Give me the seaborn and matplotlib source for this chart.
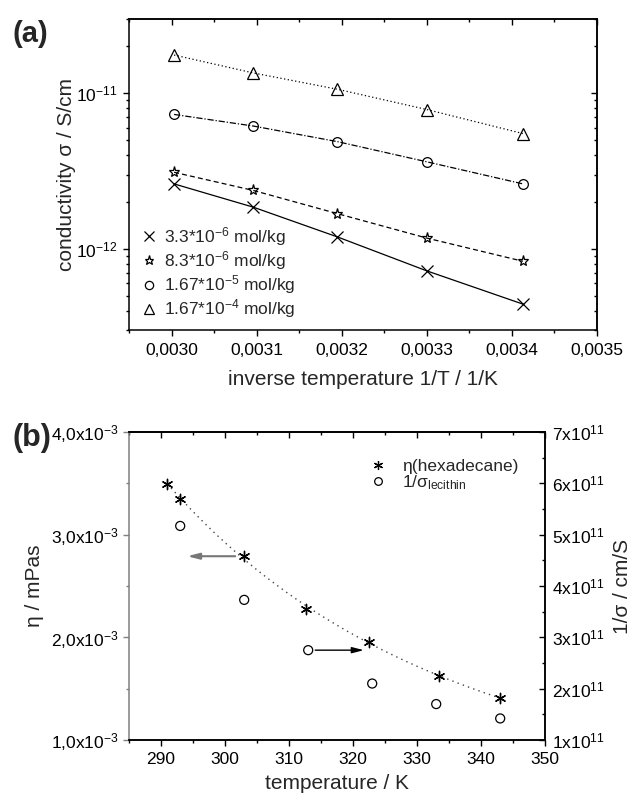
import numpy as np
import matplotlib
matplotlib.use('Agg')
import matplotlib.pyplot as plt
import seaborn as sns
from matplotlib.lines import Line2D
from matplotlib.ticker import FuncFormatter, MultipleLocator, LogLocator, NullFormatter

# ---------------- data: panel (a) ----------------
inv_T = [0.003003, 0.003096, 0.003195, 0.003300, 0.003413]
sigma_33e6 = [2.61e-12, 1.85e-12, 1.19e-12, 7.2e-13, 4.4e-13]
sigma_83e6 = [3.10e-12, 2.37e-12, 1.68e-12, 1.17e-12, 8.3e-13]
sigma_167e5 = [7.3e-12, 6.15e-12, 4.88e-12, 3.62e-12, 2.61e-12]
sigma_167e4 = [1.76e-11, 1.35e-11, 1.06e-11, 7.85e-12, 5.5e-12]
conc_labels = [r'3.3*10$^{-6}$ mol/kg', r'8.3*10$^{-6}$ mol/kg',
               r'1.67*10$^{-5}$ mol/kg', r'1.67*10$^{-4}$ mol/kg']

# ---------------- data: panel (b) ----------------
T_eta = [291, 293, 303, 312.7, 322.5, 333.5, 343]
eta = [3.49e-3, 3.35e-3, 2.79e-3, 2.28e-3, 1.955e-3, 1.62e-3, 1.41e-3]
T_sig = [293, 303, 313, 323, 333, 343]
inv_sigma = [5.17e11, 3.73e11, 2.75e11, 2.10e11, 1.70e11, 1.42e11]
leg_b_labels = ['η(hexadecane)', r'1/σ$_{lecithin}$']

sns.set_style('ticks')
plt.rcParams.update({
    'font.family': ['Liberation Sans', 'DejaVu Sans'],
    'mathtext.fontset': 'custom',
    'mathtext.rm': 'Liberation Sans',
    'mathtext.it': 'Liberation Sans:italic',
    'mathtext.bf': 'Liberation Sans:bold',
    'mathtext.sf': 'Liberation Sans',
    'mathtext.default': 'regular',
    'axes.linewidth': 1.1,
    'axes.edgecolor': 'black',
    'xtick.color': 'black', 'ytick.color': 'black',
    'xtick.major.width': 1.0, 'ytick.major.width': 1.0,
    'xtick.minor.width': 1.0, 'ytick.minor.width': 1.0,
    'xtick.major.size': 4.5, 'ytick.major.size': 4.5,
    'xtick.minor.size': 2.5, 'ytick.minor.size': 2.5,
})

TICK_FS = 12.5
LAB_FS = 15

fig = plt.figure(figsize=(6.27, 8), dpi=100)

# ================= panel (a) =================
axa = fig.add_axes([129/627, 1-330/800, 468/627, 311/800])
series = [sigma_33e6, sigma_83e6, sigma_167e5, sigma_167e4]
markers = ['x', '*', 'o', '^']
msizes = [8, 8, 7, 8]
lstyles = ['-', (0, (4, 2.5)), (0, (5, 1.5, 1, 1.5)), (0, (1, 2))]
for vals, m, ms, ls in zip(series, markers, msizes, lstyles):
    sns.lineplot(x=inv_T, y=vals, ax=axa, color='k', lw=0.9, linestyle=ls,
                 marker=m, markersize=ms, markerfacecolor='none',
                 markeredgecolor='k', markeredgewidth=0.9, legend=False)
axa.set_yscale('log')
axa.set_xlim(0.00295, 0.0035)
axa.set_ylim(3e-13, 3e-11)
axa.xaxis.set_major_locator(MultipleLocator(0.0001))
axa.xaxis.set_minor_locator(MultipleLocator(0.00005))
axa.xaxis.set_major_formatter(FuncFormatter(lambda v, p: f'{v:.4f}'.replace('.', ',')))
axa.yaxis.set_major_locator(LogLocator(base=10))
axa.yaxis.set_minor_locator(LogLocator(base=10, subs=np.arange(2, 10)))
axa.yaxis.set_minor_formatter(NullFormatter())
axa.tick_params(which='both', direction='out', labelsize=TICK_FS)
axa.tick_params(axis='x', pad=5)
axa.tick_params(axis='y', pad=4)
axa.set_xlabel('inverse temperature 1/T / 1/K', fontsize=LAB_FS)
axa.set_ylabel('conductivity σ / S/cm', fontsize=LAB_FS)
axa.xaxis.set_label_coords(0.5, -0.128)
axa.yaxis.set_label_coords(-0.113, 0.5)
for s in axa.spines.values():
    s.set_visible(True)

topa = axa.secondary_xaxis('top')
topa.xaxis.set_major_locator(MultipleLocator(0.0001))
topa.xaxis.set_minor_locator(MultipleLocator(0.00005))
topa.xaxis.set_major_formatter(NullFormatter())
topa.tick_params(which='both', direction='in', labeltop=False)
righta = axa.secondary_yaxis('right')
righta.yaxis.set_major_locator(LogLocator(base=10))
righta.yaxis.set_minor_locator(LogLocator(base=10, subs=np.arange(2, 10)))
righta.yaxis.set_major_formatter(NullFormatter())
righta.yaxis.set_minor_formatter(NullFormatter())
righta.tick_params(which='both', direction='in', labelright=False)

hand_a = [Line2D([], [], ls='none', marker=m, ms=ms*0.85, mfc='none', mec='k', mew=0.9)
          for m, ms in zip(markers, msizes)]
axa.legend(hand_a, conc_labels, loc='lower left', bbox_to_anchor=(0.02, 0.02),
           frameon=False, fontsize=12.5, handlelength=0.8, handletextpad=0.45,
           labelspacing=0.07, borderpad=0.2, borderaxespad=0)

fig.text(12/627, 1-20/800, '(a)', fontsize=21, fontweight='bold', va='top', ha='left')

# ================= panel (b) =================
axb = fig.add_axes([129/627, 1-740/800, 416/627, 308/800])
axb2 = axb.twinx()

coef = np.polyfit(T_eta, np.log(eta), 2)
T_fit = np.linspace(min(T_eta), max(T_eta), 200)
eta_fit = np.exp(np.polyval(coef, T_fit))
sns.lineplot(x=T_fit, y=eta_fit, ax=axb, color='#444444', lw=1.0,
             linestyle=(0, (1, 3)), legend=False)
sns.scatterplot(x=T_eta, y=eta, ax=axb, marker=(6, 2, 0), s=55, color='k',
                linewidth=1.0, legend=False, zorder=3)
sns.scatterplot(x=T_sig, y=inv_sigma, ax=axb2, marker='o', s=42, color='k',
                facecolor='none', edgecolor='k', linewidth=0.9, legend=False)

axb.set_xlim(285, 350)
axb.set_ylim(1e-3, 4e-3)
axb2.set_ylim(1e11, 7e11)
axb.xaxis.set_major_locator(MultipleLocator(10))
axb.xaxis.set_minor_locator(MultipleLocator(5))
axb.yaxis.set_major_locator(MultipleLocator(1e-3))
axb.yaxis.set_minor_locator(MultipleLocator(0.5e-3))
axb.yaxis.set_major_formatter(FuncFormatter(
    lambda v, p: f'{v*1e3:.1f}'.replace('.', ',') + r'x10$^{-3}$'))
axb2.yaxis.set_major_locator(MultipleLocator(1e11))
axb2.yaxis.set_minor_locator(MultipleLocator(0.5e11))
axb2.yaxis.set_major_formatter(FuncFormatter(
    lambda v, p: f'{int(round(v/1e11))}' + r'x10$^{11}$'))

axb.tick_params(which='both', direction='out', labelsize=TICK_FS)
axb.tick_params(axis='x', pad=4.5)
axb.tick_params(axis='y', which='both', color='#808080', pad=3)
axb2.tick_params(which='both', direction='in', labelsize=TICK_FS, pad=5)
axb.spines['left'].set_color('#808080')
axb2.spines['left'].set_visible(False)
for s in ['top', 'bottom', 'right']:
    axb.spines[s].set_visible(True)
    axb2.spines[s].set_visible(True)

topb = axb.secondary_xaxis('top')
topb.xaxis.set_major_locator(MultipleLocator(10))
topb.xaxis.set_minor_locator(MultipleLocator(5))
topb.xaxis.set_major_formatter(NullFormatter())
topb.tick_params(which='both', direction='in', labeltop=False)

axb.set_xlabel('temperature / K', fontsize=LAB_FS)
axb.set_ylabel('η / mPas', fontsize=LAB_FS)
axb2.set_ylabel('1/σ / cm/S', fontsize=LAB_FS)
axb.xaxis.set_label_coords(0.5, -0.112)
axb.yaxis.set_label_coords(-0.205, 0.5)
axb2.yaxis.set_label_coords(1.1635, 0.5)

axb.annotate('', xy=(294.1, eta[2]), xytext=(T_eta[2] - 1.4, eta[2]),
             arrowprops=dict(arrowstyle='-|>,head_length=0.7,head_width=0.18',
                             color='#777777', lw=1.5, shrinkA=0, shrinkB=0))
axb2.annotate('', xy=(321.7, inv_sigma[2]), xytext=(T_sig[2] + 1.1, inv_sigma[2]),
              arrowprops=dict(arrowstyle='-|>,head_length=0.7,head_width=0.18',
                              color='k', lw=1.0, shrinkA=0, shrinkB=0))

hand_b = [Line2D([], [], ls='none', marker=(6, 2, 0), ms=6.5, color='k', mew=0.9),
          Line2D([], [], ls='none', marker='o', ms=5.5, mfc='none', mec='k', mew=0.9)]
axb2.legend(hand_b, leg_b_labels, loc='upper right', bbox_to_anchor=(0.945, 0.925),
            frameon=False, fontsize=12.5, handlelength=0.8, handletextpad=1.0,
            labelspacing=-0.02, borderpad=0.2, borderaxespad=0)

fig.text(12/627, 1-423/800, '(b)', fontsize=22, fontweight='bold', va='top', ha='left')

fig.savefig('out.png', dpi=100)
